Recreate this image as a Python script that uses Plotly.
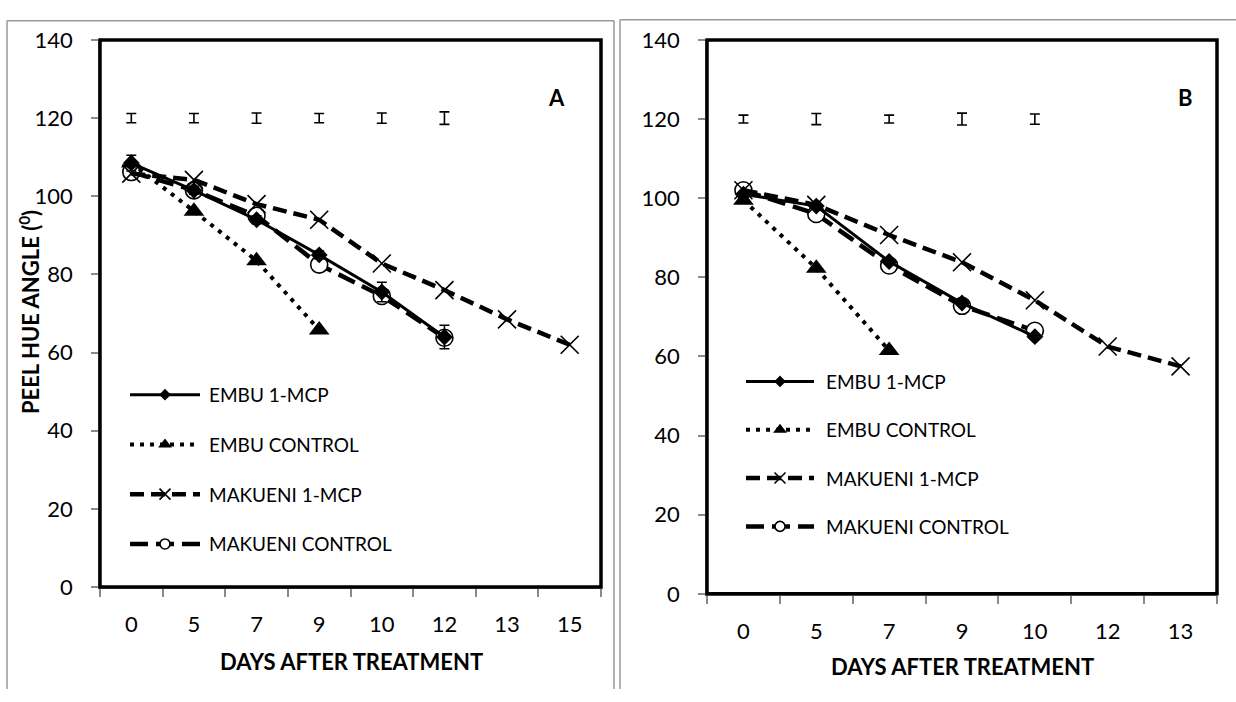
import plotly.graph_objects as go

# ---- data -------------------------------------------------------------
days_a = ["0", "5", "7", "9", "10", "12", "13", "15"]
days_b = ["0", "5", "7", "9", "10", "12", "13"]

series_names = ["EMBU 1-MCP", "EMBU CONTROL", "MAKUENI 1-MCP", "MAKUENI CONTROL"]

# Panel A (hue angle, degrees)
embu_mcp_a = [108.5, 101.5, 94.0, 85.0, 75.5, 64.0]
embu_mcp_a_err = [2.0, 1.0, 1.0, 1.0, 2.5, 3.0]
embu_ctrl_a = [108.5, 96.2, 83.5, 65.8]
mak_mcp_a = [105.8, 104.2, 98.0, 94.0, 82.8, 76.0, 68.5, 62.0]
mak_ctrl_a = [106.2, 101.5, 95.0, 82.5, 74.5, 63.8]

# Panel B (hue angle, degrees)
embu_mcp_b = [101.0, 98.0, 84.0, 73.5, 65.0]
embu_ctrl_b = [99.5, 82.3, 61.5]
mak_mcp_b = [102.0, 98.3, 90.7, 83.8, 74.2, 62.5, 57.5]
mak_ctrl_b = [102.0, 96.0, 83.0, 72.8, 66.5]

# LSD bars plotted at a fixed height above the curves
lsd_level = 120
lsd_a = [1.2, 1.2, 1.3, 1.2, 1.3, 1.6]
lsd_b = [1.0, 1.4, 1.0, 1.5, 1.3]

# ---- styling ----------------------------------------------------------
W, H = 1236, 702
FONT = "Lato"
GREY = "#8a8a8a"

line_styles = {
    "EMBU 1-MCP": dict(color="black", width=3, dash="solid"),
    "EMBU CONTROL": dict(color="black", width=4, dash="4px,6px"),
    "MAKUENI 1-MCP": dict(color="black", width=4.5, dash="14px,7px"),
    "MAKUENI CONTROL": dict(color="black", width=4.5, dash="18px,8px"),
}
marker_styles = {
    "EMBU 1-MCP": dict(symbol="diamond", color="black", size=13),
    "EMBU CONTROL": dict(symbol="triangle-up", color="black", size=18),
    "MAKUENI 1-MCP": dict(symbol="x-thin-open", color="black", size=18,
                          line=dict(color="black", width=1.6)),
    "MAKUENI CONTROL": dict(symbol="circle", color="white", size=17,
                            line=dict(color="black", width=1.6)),
}
key_marker_size = {"EMBU 1-MCP": 9, "EMBU CONTROL": 12,
                   "MAKUENI 1-MCP": 11, "MAKUENI CONTROL": 10}


def px_x(p):
    return p / W


def px_y(p):
    return 1 - p / H


fig = go.Figure()


def add_series(name, xs, ys, xa, ya, err=None):
    kw = {}
    if err is not None:
        kw["error_y"] = dict(type="data", array=err, visible=True,
                             color="black", thickness=1.5, width=5)
    fig.add_trace(go.Scatter(
        x=xs[:len(ys)], y=ys, name=name, mode="lines+markers",
        line=line_styles[name], marker=marker_styles[name],
        xaxis=xa, yaxis=ya, showlegend=False, **kw))


def add_lsd(xs, errs, xa, ya):
    fig.add_trace(go.Scatter(
        x=xs[:len(errs)], y=[lsd_level] * len(errs), mode="markers",
        marker=dict(size=1, color="rgba(0,0,0,0)"),
        error_y=dict(type="data", array=errs, visible=True,
                     color="black", thickness=1.6, width=5),
        xaxis=xa, yaxis=ya, showlegend=False, hoverinfo="skip"))


# panel A (drawing order: MAKUENI underneath, EMBU on top)
add_lsd(days_a, lsd_a, "x", "y")
add_series("MAKUENI CONTROL", days_a, mak_ctrl_a, "x", "y")
add_series("MAKUENI 1-MCP", days_a, mak_mcp_a, "x", "y")
add_series("EMBU CONTROL", days_a, embu_ctrl_a, "x", "y")
add_series("EMBU 1-MCP", days_a, embu_mcp_a, "x", "y", err=embu_mcp_a_err)

# panel B
add_lsd(days_b, lsd_b, "x2", "y2")
add_series("MAKUENI CONTROL", days_b, mak_ctrl_b, "x2", "y2")
add_series("MAKUENI 1-MCP", days_b, mak_mcp_b, "x2", "y2")
add_series("EMBU CONTROL", days_b, embu_ctrl_b, "x2", "y2")
add_series("EMBU 1-MCP", days_b, embu_mcp_b, "x2", "y2")

# ---- legend keys (long line samples with a centred marker) ------------
annotations = []


def add_keys(xa, ya, text_shift):
    for i, name in enumerate(series_names):
        fig.add_trace(go.Scatter(
            x=[0, 1], y=[i, i], mode="lines", line=line_styles[name],
            xaxis=xa, yaxis=ya, showlegend=False, hoverinfo="skip"))
        mk = dict(marker_styles[name])
        mk["size"] = key_marker_size[name]
        fig.add_trace(go.Scatter(
            x=[0.5], y=[i], mode="markers", marker=mk,
            xaxis=xa, yaxis=ya, showlegend=False, hoverinfo="skip"))
        annotations.append(dict(
            x=1, y=i, xref=xa, yref=ya, text=name, showarrow=False,
            xanchor="left", yanchor="middle", xshift=text_shift,
            font=dict(family=FONT, size=19, color="black")))


add_keys("x3", "y3", 7)
add_keys("x4", "y4", 10)

# ---- axes -------------------------------------------------------------
yax = dict(range=[0, 140], dtick=20, ticks="outside", ticklen=7,
           tickwidth=1.5, tickcolor=GREY, showline=True, linecolor=GREY,
           linewidth=1.5, showgrid=False, zeroline=False,
           tickfont=dict(family=FONT, size=22, color="black"),
           ticklabelstandoff=14)


def xax(cats):
    return dict(type="category", categoryorder="array", categoryarray=cats,
                range=[-0.5, len(cats) - 0.5], tickson="boundaries",
                ticks="outside", ticklen=8, tickwidth=1.5, tickcolor=GREY,
                showline=True, linecolor=GREY, linewidth=1.5,
                showgrid=False, zeroline=False,
                tickfont=dict(family=FONT, size=22, color="black"),
                ticklabelstandoff=17)


hidden = dict(visible=False, showgrid=False, zeroline=False, fixedrange=True)

layout = dict(
    width=W, height=H,
    margin=dict(l=0, r=0, t=0, b=0),
    paper_bgcolor="white", plot_bgcolor="white",
    font=dict(family=FONT, color="black"),
    showlegend=False,
    xaxis=dict(domain=[px_x(100), px_x(601)], anchor="y", **xax(days_a)),
    yaxis=dict(domain=[px_y(596), px_y(27)], anchor="x", **yax),
    xaxis2=dict(domain=[px_x(707), px_x(1217)], anchor="y2", **xax(days_b)),
    yaxis2=dict(domain=[px_y(603), px_y(27)], anchor="x2", **yax),
    xaxis3=dict(domain=[px_x(130), px_x(200)], anchor="y3", range=[0, 1], **hidden),
    yaxis3=dict(domain=[px_y(577), px_y(370)], anchor="x3", range=[3.5, -0.5], **hidden),
    xaxis4=dict(domain=[px_x(746), px_x(814)], anchor="y4", range=[0, 1], **hidden),
    yaxis4=dict(domain=[px_y(558), px_y(357)], anchor="x4", range=[3.5, -0.5], **hidden),
)
fig.update_layout(**layout)

# titles and panel letters
bold = dict(family=FONT, size=22, color="black", weight="bold")
annotations += [
    dict(x=px_x(351), y=px_y(673), xref="paper", yref="paper",
         text="DAYS AFTER TREATMENT", showarrow=False,
         xanchor="center", yanchor="middle", font=bold),
    dict(x=px_x(962), y=px_y(679), xref="paper", yref="paper",
         text="DAYS AFTER TREATMENT", showarrow=False,
         xanchor="center", yanchor="middle", font=bold),
    dict(x=px_x(29), y=px_y(310), xref="paper", yref="paper",
         text="PEEL HUE ANGLE (<sup>0</sup>)", textangle=-90, showarrow=False,
         xanchor="center", yanchor="middle", font=bold),
    dict(x=px_x(556), y=px_y(87), xref="paper", yref="paper", text="A",
         showarrow=False, xanchor="center", yanchor="middle", font=bold),
    dict(x=px_x(1185), y=px_y(87), xref="paper", yref="paper", text="B",
         showarrow=False, xanchor="center", yanchor="middle", font=bold),
]
fig.update_layout(annotations=annotations)

# plot-area frames and panel outlines
frame = dict(type="rect", x0=0, x1=1, y0=0, y1=1,
             line=dict(color="black", width=3.5), layer="above")
outline = dict(color="#9a9a9a", width=1.5)
shapes = [
    dict(frame, xref="x domain", yref="y domain"),
    dict(frame, xref="x2 domain", yref="y2 domain"),
    dict(type="line", xref="paper", yref="paper", x0=px_x(7), x1=px_x(7),
         y0=0, y1=px_y(7), line=outline),
    dict(type="line", xref="paper", yref="paper", x0=px_x(7), x1=px_x(614),
         y0=px_y(7), y1=px_y(7), line=outline),
    dict(type="line", xref="paper", yref="paper", x0=px_x(614), x1=px_x(614),
         y0=0, y1=px_y(7), line=outline),
    dict(type="line", xref="paper", yref="paper", x0=px_x(620), x1=px_x(620),
         y0=0, y1=px_y(6), line=outline),
    dict(type="line", xref="paper", yref="paper", x0=px_x(620), x1=1,
         y0=px_y(6), y1=px_y(6), line=outline),
]
fig.update_layout(shapes=shapes)

fig.write_html("out.html")
